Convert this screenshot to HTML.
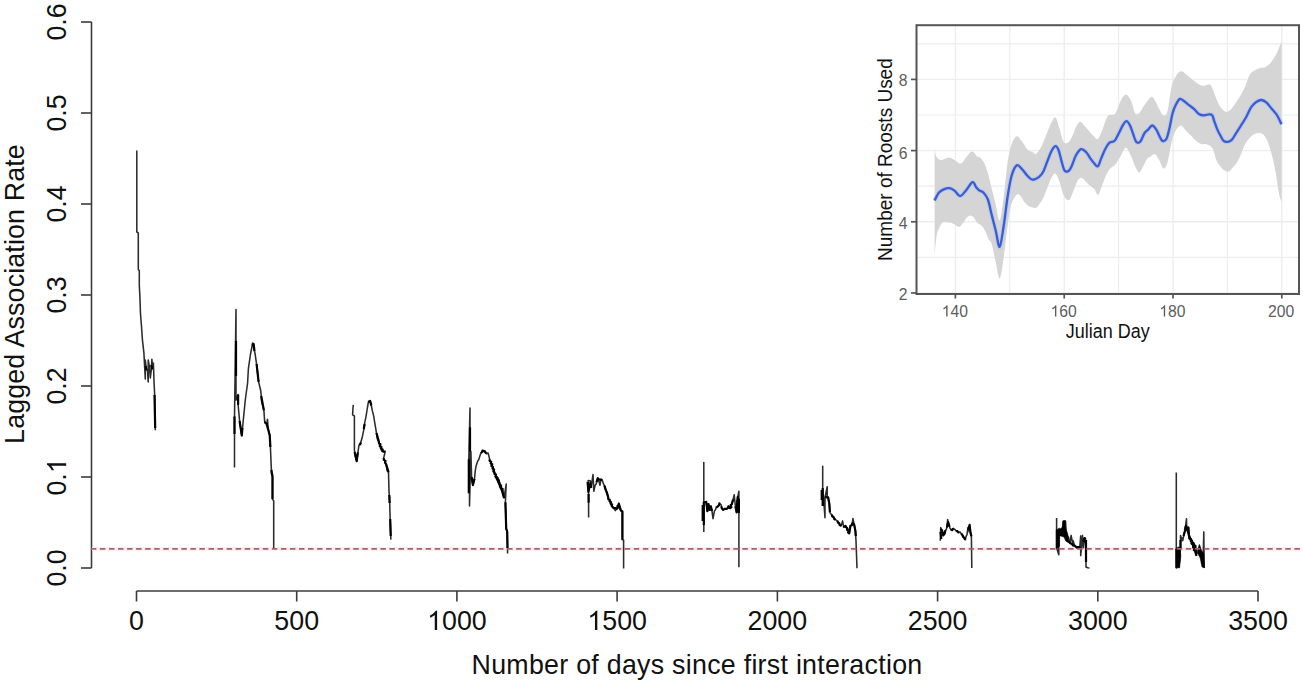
<!DOCTYPE html>
<html><head><meta charset="utf-8"><style>
html,body{margin:0;padding:0;background:#fff;}
svg{display:block;}
text{font-family:"Liberation Sans",sans-serif;}
</style></head><body>
<svg width="1303" height="684" viewBox="0 0 1303 684">
<rect width="1303" height="684" fill="#fff"/>
<g stroke="#3c3c3c" stroke-width="1.6" fill="none">
<line x1="91.5" y1="22.0" x2="91.5" y2="568.0"/>
<line x1="81" y1="568.0" x2="91.5" y2="568.0"/>
<line x1="81" y1="477.0" x2="91.5" y2="477.0"/>
<line x1="81" y1="386.0" x2="91.5" y2="386.0"/>
<line x1="81" y1="295.0" x2="91.5" y2="295.0"/>
<line x1="81" y1="204.0" x2="91.5" y2="204.0"/>
<line x1="81" y1="113.0" x2="91.5" y2="113.0"/>
<line x1="81" y1="22.0" x2="91.5" y2="22.0"/>
<line x1="136.5" y1="591" x2="1258.0" y2="591"/>
<line x1="136.5" y1="591" x2="136.5" y2="601.5"/>
<line x1="296.7" y1="591" x2="296.7" y2="601.5"/>
<line x1="456.9" y1="591" x2="456.9" y2="601.5"/>
<line x1="617.1" y1="591" x2="617.1" y2="601.5"/>
<line x1="777.4" y1="591" x2="777.4" y2="601.5"/>
<line x1="937.6" y1="591" x2="937.6" y2="601.5"/>
<line x1="1097.8" y1="591" x2="1097.8" y2="601.5"/>
<line x1="1258.0" y1="591" x2="1258.0" y2="601.5"/>
</g>
<g font-size="26.8" fill="#111" text-anchor="middle">
<g transform="translate(66.20,568.00) rotate(-90) scale(1,1.04)" fill="#111"><text x="-18.63" y="0" text-anchor="start" font-size="26.8" >0.0</text></g>
<g transform="translate(66.20,477.00) rotate(-90) scale(1,1.04)" fill="#111"><text x="-18.63" y="0" text-anchor="start" font-size="26.8" >0.&#8199;</text><path transform="translate(3.72,0) scale(0.01309,-0.01258)" d="M763,0 L583,0 L583,1147 Q518,1085 412.5,1023 Q307,961 223,930 L223,1104 Q374,1175 487,1276 Q600,1377 647,1472 L763,1472 Z"/></g>
<g transform="translate(66.20,386.00) rotate(-90) scale(1,1.04)" fill="#111"><text x="-18.63" y="0" text-anchor="start" font-size="26.8" >0.2</text></g>
<g transform="translate(66.20,295.00) rotate(-90) scale(1,1.04)" fill="#111"><text x="-18.63" y="0" text-anchor="start" font-size="26.8" >0.3</text></g>
<g transform="translate(66.20,204.00) rotate(-90) scale(1,1.04)" fill="#111"><text x="-18.63" y="0" text-anchor="start" font-size="26.8" >0.4</text></g>
<g transform="translate(66.20,113.00) rotate(-90) scale(1,1.04)" fill="#111"><text x="-18.63" y="0" text-anchor="start" font-size="26.8" >0.5</text></g>
<g transform="translate(66.20,22.00) rotate(-90) scale(1,1.04)" fill="#111"><text x="-18.63" y="0" text-anchor="start" font-size="26.8" >0.6</text></g>
<g transform="translate(136.50,630.00) scale(1,1.04)" fill="#111"><text x="-7.45" y="0" text-anchor="start" font-size="26.8" >0</text></g>
<g transform="translate(296.71,630.00) scale(1,1.04)" fill="#111"><text x="-22.36" y="0" text-anchor="start" font-size="26.8" >500</text></g>
<g transform="translate(456.93,630.00) scale(1,1.04)" fill="#111"><text x="-29.81" y="0" text-anchor="start" font-size="26.8" >&#8199;000</text><path transform="translate(-29.81,0) scale(0.01309,-0.01258)" d="M763,0 L583,0 L583,1147 Q518,1085 412.5,1023 Q307,961 223,930 L223,1104 Q374,1175 487,1276 Q600,1377 647,1472 L763,1472 Z"/></g>
<g transform="translate(617.14,630.00) scale(1,1.04)" fill="#111"><text x="-29.81" y="0" text-anchor="start" font-size="26.8" >&#8199;500</text><path transform="translate(-29.81,0) scale(0.01309,-0.01258)" d="M763,0 L583,0 L583,1147 Q518,1085 412.5,1023 Q307,961 223,930 L223,1104 Q374,1175 487,1276 Q600,1377 647,1472 L763,1472 Z"/></g>
<g transform="translate(777.36,630.00) scale(1,1.04)" fill="#111"><text x="-29.81" y="0" text-anchor="start" font-size="26.8" >2000</text></g>
<g transform="translate(937.57,630.00) scale(1,1.04)" fill="#111"><text x="-29.81" y="0" text-anchor="start" font-size="26.8" >2500</text></g>
<g transform="translate(1097.79,630.00) scale(1,1.04)" fill="#111"><text x="-29.81" y="0" text-anchor="start" font-size="26.8" >3000</text></g>
<g transform="translate(1258.00,630.00) scale(1,1.04)" fill="#111"><text x="-29.81" y="0" text-anchor="start" font-size="26.8" >3500</text></g>
<text transform="translate(697,673.8) scale(1,1.04)" letter-spacing="0.27">Number of days since first interaction</text>
<text transform="translate(23.5,294) rotate(-90) scale(1,1.04)" letter-spacing="0.15">Lagged Association Rate</text>
</g>
<line x1="92" y1="548.9" x2="1300" y2="548.9" stroke="#fcf0f2" stroke-width="4"/>
<g stroke="#000" fill="none" stroke-linejoin="round" stroke-linecap="butt">
<polyline points="136.8,150.5 136.8,232.0 138.3,233.0 138.3,269.6 139.3,270.5 139.3,285.0 139.9,296.6 140.5,314.0 141.4,325.0 142.4,339.6 143.9,352.8 144.6,365.9 145.3,379.0 145.3,360.0 146.2,368.0 146.5,369.6 147.5,371.0 148.2,382.0 148.2,360.0 149.3,366.0 150.3,378.0 151.2,371.0 151.9,359.3 152.6,369.0 153.4,363.0 154.0,381.4 154.7,395.3 155.3,430.3" stroke-width="1.55" stroke="#2c2c2c"/>
<polyline points="145.6,366.0 146.5,370.0" stroke-width="2.2"/>
<polyline points="151.2,365.0 152.2,369.0" stroke-width="2.2"/>
<polyline points="154.5,395.0 155.2,428.0" stroke-width="2.2"/>
<polyline points="234.5,467.6 234.5,416.5 236.0,309.5 236.0,400.0 236.8,398.8 236.6,397.1 237.8,396.0 238.1,394.6 238.1,404.8 239.6,421.0 241.8,435.5 243.2,421.0 245.4,399.0 247.6,383.0 248.4,368.6 250.5,354.0 252.7,343.0 254.9,352.6 256.4,362.8 257.1,368.6 258.6,381.8 260.8,391.0 261.7,401.7 263.9,410.4 264.6,420.7 264.9,422.3 266.4,423.4 266.8,425.0 267.5,419.2 268.2,429.4 269.7,435.3 270.4,446.9 271.6,474.7 272.5,474.4 272.5,499.2 273.7,500.7 273.7,548.8" stroke-width="1.55" stroke="#2c2c2c"/>
<polyline points="236.0,341.0 236.0,376.0" stroke-width="2.2"/>
<polyline points="234.5,416.5 234.5,434.0" stroke-width="2.2"/>
<polyline points="238.1,394.6 238.1,404.8" stroke-width="2.2"/>
<polyline points="239.6,421.0 241.8,435.5 242.4,428.0" stroke-width="2.2"/>
<polyline points="252.0,345.0 253.6,344.0 254.5,351.0" stroke-width="2.2"/>
<polyline points="256.6,364.0 258.6,381.8" stroke-width="2.2"/>
<polyline points="261.2,396.0 263.9,410.4" stroke-width="2.2"/>
<polyline points="265.0,421.5 265.3,422.8 266.7,423.6 266.8,425.0 268.2,429.4 269.7,435.3 270.4,446.9" stroke-width="2.2"/>
<polyline points="271.4,470.0 272.5,477.0 272.5,499.0" stroke-width="2.2"/>
<polyline points="353.2,404.9 352.6,414.9 354.4,416.0 354.4,450.0 355.5,457.0 356.7,461.1 357.9,452.3 359.0,445.3 360.2,444.1 362.0,438.3 363.7,430.1 364.9,421.9 366.1,416.1 367.2,409.0 368.4,402.0 370.1,400.8 371.3,405.5 372.5,411.4 373.7,416.1 374.8,423.1 376.0,430.1 377.2,438.3 377.8,440.2 378.9,441.8 380.1,446.5 381.3,450.0 382.4,451.1 383.8,451.6 385.3,451.2 383.6,458.2 384.0,459.8 385.1,461.0 385.1,462.8 386.1,464.1 386.9,468.9 387.2,470.8 388.5,472.1 389.0,491.4 389.6,499.4 390.1,517.1 390.9,539.6" stroke-width="1.55" stroke="#2c2c2c"/>
<polyline points="354.6,452.0 356.7,461.1 357.9,452.3" stroke-width="2.2"/>
<polyline points="359.3,445.0 360.4,443.9 361.0,442.5" stroke-width="2.2"/>
<polyline points="368.4,402.0 370.1,400.8 371.3,405.5" stroke-width="2.2"/>
<polyline points="376.5,433.0 378.9,441.8 379.0,443.3 380.5,444.2 379.7,446.1 381.5,446.9 380.9,448.6 382.7,449.5 382.4,451.1 384.8,452.0" stroke-width="2.2"/>
<polyline points="383.6,458.2 383.9,459.8 385.5,460.9 385.1,462.8 386.1,464.1 388.5,472.1" stroke-width="2.2"/>
<polyline points="389.3,495.0 389.6,503.0" stroke-width="2.2"/>
<polyline points="390.2,519.0 390.7,536.0" stroke-width="2.2"/>
<polyline points="363.8,429.0 364.6,424.0" stroke-width="2.2"/>
<polyline points="468.8,493.2 468.8,459.4 470.0,408.0 470.0,451.4 469.5,470.0 469.5,506.0 470.9,451.4 471.6,477.1 472.9,485.1 474.5,478.7 475.3,470.7 476.1,465.9 477.7,461.0 478.8,459.5 479.3,457.8 480.9,453.0 481.9,452.0 482.5,450.6 484.9,451.4 485.4,452.8 486.5,453.8 488.1,453.0 489.7,459.4 491.3,464.3 491.6,466.2 492.9,467.5 494.5,472.3 494.8,473.6 496.1,474.5 495.8,476.1 496.9,477.1 497.2,478.9 498.7,480.1 498.9,481.9 499.2,483.4 500.2,484.7 500.3,486.4 501.1,487.7 501.3,489.4 502.9,490.5 503.2,492.1 504.0,498.0 506.2,484.1 505.4,502.3 506.2,528.6 507.2,531.5 507.6,553.4" stroke-width="1.55" stroke="#2c2c2c"/>
<polyline points="470.0,427.3 470.0,451.4" stroke-width="2.2"/>
<polyline points="468.8,459.4 468.8,493.2" stroke-width="2.2"/>
<polyline points="471.6,477.1 472.9,485.1 474.5,478.7" stroke-width="2.2"/>
<polyline points="480.9,453.0 482.1,452.0 482.5,450.6 484.9,451.4 486.2,453.5" stroke-width="2.2"/>
<polyline points="489.7,459.4 489.6,460.9 491.2,461.8 490.7,463.4 492.3,464.3 491.5,466.1 493.0,467.0 492.5,468.6 494.1,469.5 493.3,471.3 494.5,472.3 494.4,473.8 496.0,474.7 495.4,476.5 497.0,477.3 496.8,478.9 498.4,479.7 498.0,481.4 499.4,482.4 499.2,484.0 500.6,484.9 499.9,486.7 501.1,487.7 504.0,498.0" stroke-width="2.2"/>
<polyline points="505.4,502.3 506.2,528.6 507.2,531.5 507.5,548.0" stroke-width="2.2"/>
<polyline points="496.0,476.0 496.0,477.5 497.9,478.2 497.3,479.9 498.9,480.7 498.4,482.5 499.5,483.5 499.6,485.1 501.2,486.1 500.6,488.0 502.6,488.8 502.5,490.5" stroke-width="2.2"/>
<polyline points="588.6,517.6 588.6,494.0 588.1,480.4 590.3,480.8 591.2,486.9 593.0,474.6 593.8,491.3 595.2,485.2 596.3,483.8 596.5,482.1 597.8,478.2 598.0,480.1 599.1,481.7 600.0,485.2 600.9,479.5 602.2,479.9 603.5,483.9 604.4,485.6 605.2,489.1 605.7,490.3 606.6,491.3 607.4,493.1 608.3,497.5 608.5,499.0 609.6,500.1 610.5,503.6 611.4,505.8 612.7,507.1 614.0,508.9 615.3,510.6 616.6,508.9 617.8,507.8 618.0,506.2 618.8,503.6 619.7,508.9 621.0,510.6 622.4,511.5 622.4,539.8 623.6,540.0 623.6,568.4" stroke-width="1.55" stroke="#2c2c2c"/>
<polyline points="588.6,494.0 588.6,502.7" stroke-width="2.2"/>
<polyline points="587.6,482.0 588.4,492.0 590.3,483.0 591.2,488.0" stroke-width="2.2"/>
<polyline points="596.5,482.1 597.8,478.2 599.0,479.6 600.9,479.5 602.2,480.0" stroke-width="2.2"/>
<polyline points="604.4,485.6 608.3,497.5 608.2,499.0 609.8,499.7 609.5,501.3 611.1,502.0 610.8,503.6 612.1,504.5 611.8,506.1 612.7,507.1 613.9,508.0 615.4,508.0 616.6,508.9 617.8,507.8 617.4,506.1 618.6,505.1 618.8,503.6 621.0,510.6 622.4,511.5 622.4,539.8" stroke-width="2.2"/>
<polyline points="703.8,532.1 703.8,462.6 703.8,501.8 706.2,501.8 707.4,511.1 708.5,504.1 709.7,509.9 710.9,506.4 712.0,511.1 713.0,518.7 714.4,511.1 715.6,509.5 716.1,507.6 717.9,506.4 719.3,504.9 719.6,502.9 720.0,504.2 721.2,505.0 721.4,506.4 721.8,508.4 723.1,509.9 724.9,508.8 726.6,508.8 728.0,508.0 728.4,506.4 730.1,508.2 731.2,507.1 730.7,505.2 731.9,504.1 733.1,499.4 734.2,494.7 735.4,506.4 736.6,512.3 737.7,497.1 738.9,491.2 738.9,567.3" stroke-width="1.55" stroke="#2c2c2c"/>
<polyline points="703.8,501.8 703.8,525.1" stroke-width="2.2"/>
<polyline points="702.7,505.0 702.7,521.0" stroke-width="2.2"/>
<polyline points="705.0,503.0 706.2,501.8 707.4,511.1 708.5,504.1 709.7,509.9 710.9,506.4 712.0,511.1" stroke-width="2.2"/>
<polyline points="716.1,507.6 717.9,506.4 719.1,504.8 719.6,502.9" stroke-width="2.2"/>
<polyline points="721.4,506.4 721.8,508.4 723.1,509.9 724.9,508.8 726.6,508.8 727.9,507.9 728.4,506.4 730.1,508.2 731.4,507.1 730.6,505.1 731.9,504.1 733.1,499.4" stroke-width="2.2"/>
<polyline points="735.4,506.4 736.6,512.3 737.7,497.1 738.0,498.7 738.9,500.0 738.9,513.0" stroke-width="2.2"/>
<polyline points="737.5,500.0 737.5,510.0" stroke-width="2.2"/>
<polyline points="822.7,506.0 822.7,466.2 822.7,488.0 825.0,517.8 825.0,497.3 827.2,486.7 827.2,497.3 828.1,497.3 829.3,503.5 829.9,512.2 830.6,513.6 831.8,514.7 832.5,516.1 833.7,517.2 834.3,518.6 835.5,519.7 837.4,520.9 838.0,522.4 839.3,523.4 839.8,524.9 841.1,525.9 842.6,520.9 843.6,527.2 845.5,525.9 846.1,527.4 847.3,528.4 847.6,529.7 848.6,530.8 848.4,532.3 849.2,533.4 850.4,525.9 851.7,524.9 852.3,523.4 852.9,518.5 854.2,524.7 855.4,530.9 856.0,540.8 857.0,568.2" stroke-width="1.55" stroke="#2c2c2c"/>
<polyline points="822.7,488.0 822.7,506.0" stroke-width="2.2"/>
<polyline points="821.7,490.0 821.7,500.0" stroke-width="2.2"/>
<polyline points="825.6,496.1 826.5,497.4 828.1,497.3 829.3,503.5 829.9,512.2" stroke-width="2.2"/>
<polyline points="831.8,514.7 832.2,516.3 833.7,517.2 834.1,518.8 835.5,519.7" stroke-width="2.2"/>
<polyline points="837.4,520.9 837.9,522.5 839.3,523.4 839.7,525.0 841.1,525.9" stroke-width="2.2"/>
<polyline points="843.6,527.2 845.5,525.9 846.2,527.3 847.3,528.4 847.1,529.9 848.9,530.6 848.0,532.4 849.2,533.4 850.4,525.9 851.9,525.1 852.3,523.4 854.2,524.7 855.4,530.9 855.8,536.0" stroke-width="2.2"/>
<polyline points="940.3,540.7 940.7,527.5 941.0,529.0 942.0,530.2 943.3,535.4 944.6,533.7 945.5,530.2 946.5,529.0 946.8,527.5 947.7,519.6 948.6,524.9 949.5,526.7 949.9,528.1 950.8,529.3 952.1,530.2 953.4,528.4 954.7,529.3 956.1,531.1 957.4,531.1 958.7,532.8 960.0,531.9 961.3,533.7 962.6,535.4 963.9,537.2 964.2,538.7 965.3,539.8 966.1,536.3 967.0,534.6 967.9,527.5 967.9,531.9 969.6,524.9 970.5,532.8 971.4,536.3 971.8,567.9" stroke-width="1.55" stroke="#2c2c2c"/>
<polyline points="940.7,529.0 942.0,530.2 943.3,535.4 944.6,533.7 945.5,530.2" stroke-width="2.2"/>
<polyline points="940.5,532.0 941.3,539.0" stroke-width="2.2"/>
<polyline points="946.8,527.5 948.2,522.0 949.5,526.7" stroke-width="2.2"/>
<polyline points="950.8,529.3 952.1,530.2 953.4,528.4" stroke-width="2.2"/>
<polyline points="956.1,531.1 957.4,531.1 958.7,532.8" stroke-width="2.2"/>
<polyline points="961.3,533.7 962.6,535.4 963.2,537.0 964.7,538.2 965.3,539.8" stroke-width="2.2"/>
<polyline points="968.3,530.0 969.6,524.9 970.5,532.8 971.4,536.3" stroke-width="2.2"/>
<polyline points="1056.6,517.9 1056.6,547.7 1058.8,554.7 1058.8,531.0 1060.3,530.3 1061.2,528.8 1062.7,528.0 1063.5,521.0 1065.5,521.0 1066.0,530.0 1067.5,535.0 1067.6,536.4 1068.6,537.4 1068.6,538.8 1069.6,539.9 1069.5,541.3 1070.2,542.5 1071.1,535.4 1072.8,544.2 1073.2,540.7 1074.6,546.0 1076.3,547.7 1078.1,548.6 1079.8,546.8 1080.7,535.9 1080.7,555.6 1082.5,535.4 1083.3,547.7 1084.6,538.1 1085.5,539.0 1086.0,560.9 1086.0,567.0 1087.7,567.8 1089.5,567.9" stroke-width="1.55" stroke="#2c2c2c"/>
<polyline points="1086.0,540.0 1086.0,562.0" stroke-width="2.2"/>
<polyline points="1083.5,542.0 1084.6,538.1 1085.5,539.0" stroke-width="2.2"/>
<polyline points="1067.0,540.5 1069.0,542.0 1070.3,543.2 1072.0,544.0 1073.1,545.5 1075.0,545.8 1076.2,547.1 1078.0,547.2 1080.3,547.0" stroke-width="2.2"/>
<polygon points="1056.2,530.0 1059.6,528.0 1059.6,546.0 1058.0,548.0 1056.2,548.0" fill="#000" stroke="#000" stroke-width="0.6"/>
<polygon points="1058.0,531.0 1062.3,527.5 1062.8,521.0 1065.2,520.8 1065.7,528.0 1066.8,533.0 1068.6,538.5 1067.5,542.0 1065.8,541.0 1064.0,537.0 1061.0,536.0 1059.0,536.0" fill="#000" stroke="#000" stroke-width="0.6"/>
<polyline points="1176.3,472.6 1176.3,547.7 1176.5,567.9 1178.0,555.0 1179.0,567.0 1180.5,548.0 1180.5,535.4 1180.8,536.8 1181.9,537.9 1181.8,539.5 1182.7,540.7 1184.0,534.6 1184.9,531.1 1186.5,518.8 1186.7,529.3 1188.4,527.5 1188.9,535.4 1189.2,536.9 1190.2,538.1 1190.8,539.6 1191.9,540.7 1192.3,542.3 1193.7,543.3 1193.6,545.0 1195.2,546.1 1195.4,547.7 1196.3,553.9 1197.6,552.8 1198.1,551.2 1199.4,545.1 1200.3,552.1 1201.6,559.1 1202.5,562.6 1203.3,551.2 1203.8,531.9 1204.2,567.9" stroke-width="1.55" stroke="#2c2c2c"/>
<polyline points="1183.5,536.0 1184.9,531.1 1186.7,529.3 1188.4,527.5 1188.9,535.4 1189.3,536.9 1190.2,538.1 1190.8,539.6 1191.9,540.7 1192.4,542.3 1193.7,543.3 1193.9,544.9 1195.5,546.0 1195.4,547.7 1196.3,553.9" stroke-width="2.2"/>
<polyline points="1184.5,530.0 1185.4,528.8 1185.4,527.2 1186.2,526.0 1187.8,531.0 1189.6,537.0 1189.3,538.5 1191.1,539.3 1190.7,540.9 1191.5,542.0 1191.5,543.6 1192.9,544.6 1193.2,546.0 1193.1,547.4 1194.9,548.2 1193.8,550.0 1195.0,551.0 1196.5,556.0" stroke-width="2.2"/>
<polyline points="1180.5,540.0 1180.5,548.0" stroke-width="2.2"/>
<polygon points="1175.6,549.0 1178.5,547.0 1180.0,548.0 1180.8,556.0 1179.6,567.8 1175.6,567.8" fill="#000" stroke="#000" stroke-width="0.6"/>
<polygon points="1197.8,550.0 1199.6,545.5 1201.8,551.0 1203.6,553.0 1204.6,567.8 1202.0,567.0 1200.2,558.0 1198.0,554.0" fill="#000" stroke="#000" stroke-width="0.6"/>
</g>
<line x1="90.85" y1="548.9" x2="1300" y2="548.9" stroke="#a8606c" stroke-width="1.75" stroke-dasharray="5.5 3.549"/>
<g stroke="#ededed" fill="none">
<line x1="916.5" x2="1299" y1="257.4" y2="257.4" stroke-width="1.2"/>
<line x1="916.5" x2="1299" y1="186.2" y2="186.2" stroke-width="1.2"/>
<line x1="916.5" x2="1299" y1="115.0" y2="115.0" stroke-width="1.2"/>
<line x1="916.5" x2="1299" y1="43.8" y2="43.8" stroke-width="1.2"/>
<line y1="25.2" y2="294" x1="1009.8" x2="1009.8" stroke-width="1.2"/>
<line y1="25.2" y2="294" x1="1118.6" x2="1118.6" stroke-width="1.2"/>
<line y1="25.2" y2="294" x1="1227.4" x2="1227.4" stroke-width="1.2"/>
<line x1="916.5" x2="1299" y1="293.0" y2="293.0" stroke-width="1.4"/>
<line x1="916.5" x2="1299" y1="221.8" y2="221.8" stroke-width="1.4"/>
<line x1="916.5" x2="1299" y1="150.6" y2="150.6" stroke-width="1.4"/>
<line x1="916.5" x2="1299" y1="79.4" y2="79.4" stroke-width="1.4"/>
<line y1="25.2" y2="294" x1="955.4" x2="955.4" stroke-width="1.4"/>
<line y1="25.2" y2="294" x1="1064.2" x2="1064.2" stroke-width="1.4"/>
<line y1="25.2" y2="294" x1="1173.0" x2="1173.0" stroke-width="1.4"/>
<line y1="25.2" y2="294" x1="1281.8" x2="1281.8" stroke-width="1.4"/>
</g>
<path d="M934.60,147.90 C934.90,149.37 935.27,154.68 936.40,156.70 C937.53,158.72 939.37,159.85 941.40,160.00 C943.43,160.15 946.55,157.68 948.60,157.60 C950.65,157.52 951.67,158.52 953.70,159.50 C955.73,160.48 958.75,163.82 960.80,163.50 C962.85,163.18 964.12,159.60 966.00,157.60 C967.88,155.60 970.23,151.67 972.10,151.50 C973.97,151.33 975.88,155.62 977.20,156.60 C978.52,157.58 978.87,156.40 980.00,157.40 C981.13,158.40 982.68,159.97 984.00,162.60 C985.32,165.23 986.60,168.80 987.90,173.20 C989.20,177.60 990.48,183.75 991.80,189.00 C993.12,194.25 994.48,199.45 995.80,204.70 C997.12,209.95 998.38,221.82 999.70,220.50 C1001.02,219.18 1002.38,206.45 1003.70,196.80 C1005.02,187.15 1006.28,171.37 1007.60,162.60 C1008.92,153.83 1010.07,148.58 1011.60,144.20 C1013.13,139.82 1015.05,136.73 1016.80,136.30 C1018.55,135.87 1020.33,139.40 1022.10,141.60 C1023.87,143.80 1025.65,147.75 1027.40,149.50 C1029.15,151.25 1031.17,151.35 1032.60,152.10 C1034.03,152.85 1034.58,154.83 1036.00,154.00 C1037.42,153.17 1039.38,150.30 1041.10,147.10 C1042.82,143.90 1044.58,138.90 1046.30,134.80 C1048.02,130.70 1049.87,125.40 1051.40,122.50 C1052.93,119.60 1054.13,116.37 1055.50,117.40 C1056.87,118.43 1058.23,124.60 1059.60,128.70 C1060.97,132.80 1062.17,139.78 1063.70,142.00 C1065.23,144.22 1067.27,143.20 1068.80,142.00 C1070.33,140.80 1071.70,137.30 1072.90,134.80 C1074.10,132.30 1074.78,129.17 1076.00,127.00 C1077.22,124.83 1078.70,121.88 1080.20,121.80 C1081.70,121.72 1083.37,124.80 1085.00,126.50 C1086.63,128.20 1088.50,130.33 1090.00,132.00 C1091.50,133.67 1092.73,135.30 1094.00,136.50 C1095.27,137.70 1096.43,139.78 1097.60,139.20 C1098.77,138.62 1099.85,135.53 1101.00,133.00 C1102.15,130.47 1103.35,126.88 1104.50,124.00 C1105.65,121.12 1106.65,117.20 1107.90,115.70 C1109.15,114.20 1110.72,115.45 1112.00,115.00 C1113.28,114.55 1114.15,115.38 1115.60,113.00 C1117.05,110.62 1119.00,103.77 1120.70,100.70 C1122.40,97.63 1124.08,94.60 1125.80,94.60 C1127.52,94.60 1129.45,97.63 1131.00,100.70 C1132.55,103.77 1133.73,110.95 1135.10,113.00 C1136.47,115.05 1137.85,114.02 1139.20,113.00 C1140.55,111.98 1141.22,109.58 1143.20,106.90 C1145.18,104.22 1149.10,97.88 1151.10,96.90 C1153.10,95.92 1153.83,98.95 1155.20,101.00 C1156.57,103.05 1157.93,106.82 1159.30,109.20 C1160.67,111.58 1162.03,114.97 1163.40,115.30 C1164.77,115.63 1166.13,115.98 1167.50,111.20 C1168.87,106.42 1170.23,92.40 1171.60,86.60 C1172.97,80.80 1174.17,78.95 1175.70,76.40 C1177.23,73.85 1179.08,71.65 1180.80,71.30 C1182.52,70.95 1184.28,73.12 1186.00,74.30 C1187.72,75.48 1189.40,77.03 1191.10,78.40 C1192.80,79.77 1194.50,81.30 1196.20,82.50 C1197.90,83.70 1199.82,85.08 1201.30,85.60 C1202.78,86.12 1203.62,85.77 1205.10,85.60 C1206.58,85.43 1208.83,83.75 1210.20,84.60 C1211.57,85.45 1212.27,88.32 1213.30,90.70 C1214.33,93.08 1215.20,96.17 1216.40,98.90 C1217.60,101.63 1219.13,105.05 1220.50,107.10 C1221.87,109.15 1223.23,110.52 1224.60,111.20 C1225.97,111.88 1227.33,111.88 1228.70,111.20 C1230.07,110.52 1231.43,108.80 1232.80,107.10 C1234.17,105.40 1235.53,103.05 1236.90,101.00 C1238.27,98.95 1239.63,97.20 1241.00,94.80 C1242.37,92.40 1243.57,90.07 1245.10,86.60 C1246.63,83.13 1248.48,76.78 1250.20,74.00 C1251.92,71.22 1253.68,70.92 1255.40,69.90 C1257.12,68.88 1258.80,68.40 1260.50,67.90 C1262.20,67.40 1263.90,67.75 1265.60,66.90 C1267.30,66.05 1269.17,64.52 1270.70,62.80 C1272.23,61.08 1273.60,58.65 1274.80,56.60 C1276.00,54.55 1276.77,53.05 1277.90,50.50 C1279.03,47.95 1280.98,42.83 1281.60,41.30 L1281.60,201.70 C1281.32,201.02 1280.52,200.00 1279.90,197.60 C1279.28,195.20 1278.58,191.40 1277.90,187.30 C1277.22,183.20 1276.65,177.77 1275.80,173.00 C1274.95,168.23 1273.98,163.48 1272.80,158.70 C1271.62,153.92 1270.07,148.07 1268.70,144.30 C1267.33,140.53 1265.97,137.97 1264.60,136.10 C1263.23,134.23 1262.03,133.50 1260.50,133.10 C1258.97,132.70 1257.12,133.02 1255.40,133.70 C1253.68,134.38 1251.92,135.43 1250.20,137.20 C1248.48,138.97 1246.63,141.47 1245.10,144.30 C1243.57,147.13 1242.37,151.18 1241.00,154.20 C1239.63,157.22 1238.27,160.18 1236.90,162.40 C1235.53,164.62 1234.17,165.97 1232.80,167.50 C1231.43,169.03 1230.07,171.08 1228.70,171.60 C1227.33,172.12 1225.97,171.45 1224.60,170.60 C1223.23,169.75 1221.87,168.22 1220.50,166.50 C1219.13,164.78 1217.60,163.03 1216.40,160.30 C1215.20,157.57 1214.33,152.48 1213.30,150.10 C1212.27,147.72 1211.57,147.02 1210.20,146.00 C1208.83,144.98 1206.58,144.33 1205.10,144.00 C1203.62,143.67 1202.78,144.52 1201.30,144.00 C1199.82,143.48 1197.90,142.27 1196.20,140.90 C1194.50,139.53 1192.80,137.50 1191.10,135.80 C1189.40,134.10 1187.72,132.42 1186.00,130.70 C1184.28,128.98 1182.52,125.50 1180.80,125.50 C1179.08,125.50 1177.23,127.97 1175.70,130.70 C1174.17,133.43 1172.97,136.62 1171.60,141.90 C1170.23,147.18 1168.87,157.97 1167.50,162.40 C1166.13,166.83 1164.77,168.85 1163.40,168.50 C1162.03,168.15 1160.67,162.68 1159.30,160.30 C1157.93,157.92 1156.57,154.87 1155.20,154.20 C1153.83,153.53 1152.47,155.50 1151.10,156.30 C1149.73,157.10 1148.32,157.33 1147.00,159.00 C1145.68,160.67 1144.50,164.07 1143.20,166.30 C1141.90,168.53 1140.55,172.40 1139.20,172.40 C1137.85,172.40 1136.47,169.03 1135.10,166.30 C1133.73,163.57 1132.55,159.08 1131.00,156.00 C1129.45,152.92 1127.52,147.80 1125.80,147.80 C1124.08,147.80 1122.40,153.27 1120.70,156.00 C1119.00,158.73 1117.30,162.15 1115.60,164.20 C1113.90,166.25 1112.03,166.60 1110.50,168.30 C1108.97,170.00 1107.77,171.67 1106.40,174.40 C1105.03,177.13 1103.67,181.28 1102.30,184.70 C1100.93,188.12 1099.57,194.22 1098.20,194.90 C1096.83,195.58 1095.42,190.28 1094.10,188.80 C1092.78,187.32 1091.62,187.15 1090.30,186.00 C1088.98,184.85 1087.73,183.27 1086.20,181.90 C1084.67,180.53 1082.63,177.80 1081.10,177.80 C1079.57,177.80 1078.37,179.50 1077.00,181.90 C1075.63,184.30 1074.27,189.13 1072.90,192.20 C1071.53,195.27 1070.33,199.80 1068.80,200.30 C1067.27,200.80 1065.23,198.27 1063.70,195.20 C1062.17,192.13 1060.97,185.48 1059.60,181.90 C1058.23,178.32 1056.87,174.38 1055.50,173.70 C1054.13,173.02 1052.77,175.40 1051.40,177.80 C1050.03,180.20 1048.67,184.68 1047.30,188.10 C1045.93,191.52 1044.57,195.58 1043.20,198.30 C1041.83,201.02 1040.30,202.78 1039.10,204.40 C1037.90,206.02 1037.02,207.47 1036.00,208.00 C1034.98,208.53 1034.23,207.93 1033.00,207.60 C1031.77,207.27 1030.07,206.97 1028.60,206.00 C1027.13,205.03 1025.55,203.47 1024.20,201.80 C1022.85,200.13 1021.72,197.22 1020.50,196.00 C1019.28,194.78 1018.47,193.00 1016.90,194.50 C1015.33,196.00 1012.65,199.67 1011.10,205.00 C1009.55,210.33 1008.83,217.77 1007.60,226.50 C1006.37,235.23 1005.02,248.75 1003.70,257.40 C1002.38,266.05 1001.02,277.53 999.70,278.40 C998.38,279.27 997.12,268.30 995.80,262.60 C994.48,256.90 992.97,248.05 991.80,244.20 C990.63,240.35 989.75,241.32 988.80,239.50 C987.85,237.68 986.98,235.22 986.10,233.30 C985.22,231.38 984.52,229.45 983.50,228.00 C982.48,226.55 981.17,225.62 980.00,224.60 C978.83,223.58 977.52,223.08 976.50,221.90 C975.48,220.72 974.92,218.58 973.90,217.50 C972.88,216.42 971.58,215.40 970.40,215.40 C969.22,215.40 967.98,216.27 966.80,217.50 C965.62,218.73 964.38,221.33 963.30,222.80 C962.22,224.27 961.18,225.63 960.30,226.30 C959.42,226.97 958.95,227.08 958.00,226.80 C957.05,226.52 955.77,225.27 954.60,224.60 C953.43,223.93 952.18,223.17 951.00,222.80 C949.82,222.43 948.67,222.55 947.50,222.40 C946.33,222.25 945.02,221.68 944.00,221.90 C942.98,222.12 942.27,222.52 941.40,223.70 C940.53,224.88 939.53,227.40 938.80,229.00 C938.07,230.60 937.55,230.63 937.00,233.30 C936.45,235.97 935.90,241.38 935.50,245.00 C935.10,248.62 934.75,253.33 934.60,255.00 Z" fill="#d5d5d5" stroke="none"/>
<path d="M934.60,200.50 C935.33,199.18 937.38,194.50 939.00,192.60 C940.62,190.70 942.53,189.83 944.30,189.10 C946.07,188.37 947.85,187.90 949.60,188.20 C951.35,188.50 953.05,189.58 954.80,190.90 C956.55,192.22 958.23,196.18 960.10,196.10 C961.97,196.02 963.93,192.72 966.00,190.40 C968.07,188.08 970.80,182.72 972.50,182.20 C974.20,181.68 975.07,185.93 976.20,187.30 C977.33,188.67 978.10,189.53 979.30,190.40 C980.50,191.27 981.97,190.98 983.40,192.50 C984.83,194.02 986.50,195.70 987.90,199.50 C989.30,203.30 990.48,210.05 991.80,215.30 C993.12,220.55 994.48,225.75 995.80,231.00 C997.12,236.25 998.38,247.67 999.70,246.80 C1001.02,245.93 1002.38,234.13 1003.70,225.80 C1005.02,217.47 1006.28,205.13 1007.60,196.80 C1008.92,188.47 1010.07,181.05 1011.60,175.80 C1013.13,170.55 1015.05,166.40 1016.80,165.30 C1018.55,164.20 1020.33,167.45 1022.10,169.20 C1023.87,170.95 1025.65,174.05 1027.40,175.80 C1029.15,177.55 1030.65,179.53 1032.60,179.70 C1034.55,179.87 1037.33,178.13 1039.10,176.80 C1040.87,175.47 1041.83,174.27 1043.20,171.70 C1044.57,169.13 1045.93,164.82 1047.30,161.40 C1048.67,157.98 1050.03,153.75 1051.40,151.20 C1052.77,148.65 1054.30,146.27 1055.50,146.10 C1056.70,145.93 1057.58,147.65 1058.60,150.20 C1059.62,152.75 1060.58,157.98 1061.60,161.40 C1062.62,164.82 1063.50,169.15 1064.70,170.70 C1065.90,172.25 1067.60,171.57 1068.80,170.70 C1070.00,169.83 1070.70,168.07 1071.90,165.50 C1073.10,162.93 1074.47,158.03 1076.00,155.30 C1077.53,152.57 1079.40,149.62 1081.10,149.10 C1082.80,148.58 1084.67,150.65 1086.20,152.20 C1087.73,153.75 1088.98,156.57 1090.30,158.40 C1091.62,160.23 1092.85,161.88 1094.10,163.20 C1095.35,164.52 1096.60,167.15 1097.80,166.30 C1099.00,165.45 1100.03,161.02 1101.30,158.10 C1102.57,155.18 1104.03,151.37 1105.40,148.80 C1106.77,146.23 1107.97,144.05 1109.50,142.70 C1111.03,141.35 1113.07,142.23 1114.60,140.70 C1116.13,139.17 1117.33,136.07 1118.70,133.50 C1120.07,130.93 1121.50,127.35 1122.80,125.30 C1124.10,123.25 1125.32,121.20 1126.50,121.20 C1127.68,121.20 1128.82,123.25 1129.90,125.30 C1130.98,127.35 1131.97,130.77 1133.00,133.50 C1134.03,136.23 1134.90,140.33 1136.10,141.70 C1137.30,143.07 1138.83,143.07 1140.20,141.70 C1141.57,140.33 1142.98,135.52 1144.30,133.50 C1145.62,131.48 1146.78,130.93 1148.10,129.60 C1149.42,128.27 1150.83,125.50 1152.20,125.50 C1153.57,125.50 1155.12,127.88 1156.30,129.60 C1157.48,131.32 1158.28,133.92 1159.30,135.80 C1160.32,137.68 1161.20,140.40 1162.40,140.90 C1163.60,141.40 1165.30,141.02 1166.50,138.80 C1167.70,136.58 1168.58,131.87 1169.60,127.60 C1170.62,123.33 1171.58,116.95 1172.60,113.20 C1173.62,109.45 1174.50,107.48 1175.70,105.10 C1176.90,102.72 1178.43,99.58 1179.80,98.90 C1181.17,98.22 1182.37,99.97 1183.90,101.00 C1185.43,102.03 1187.28,103.73 1189.00,105.10 C1190.72,106.47 1192.48,107.67 1194.20,109.20 C1195.92,110.73 1197.65,113.28 1199.30,114.30 C1200.95,115.32 1202.45,115.30 1204.10,115.30 C1205.75,115.30 1207.83,114.30 1209.20,114.30 C1210.57,114.30 1211.45,114.12 1212.30,115.30 C1213.15,116.48 1213.45,119.02 1214.30,121.40 C1215.15,123.78 1216.37,127.20 1217.40,129.60 C1218.43,132.00 1219.47,133.92 1220.50,135.80 C1221.53,137.68 1222.42,139.88 1223.60,140.90 C1224.78,141.92 1226.25,142.07 1227.60,141.90 C1228.95,141.73 1230.33,141.27 1231.70,139.90 C1233.07,138.53 1234.25,136.10 1235.80,133.70 C1237.35,131.30 1239.28,128.23 1241.00,125.50 C1242.72,122.77 1244.40,120.37 1246.10,117.30 C1247.80,114.23 1249.50,109.65 1251.20,107.10 C1252.90,104.55 1254.58,103.18 1256.30,102.00 C1258.02,100.82 1259.78,99.88 1261.50,100.00 C1263.22,100.12 1264.90,101.23 1266.60,102.70 C1268.30,104.17 1269.98,106.75 1271.70,108.80 C1273.42,110.85 1275.28,112.43 1276.90,115.00 C1278.52,117.57 1280.65,122.67 1281.40,124.20" fill="none" stroke="#b4c4ee" stroke-width="4.4" stroke-linejoin="round" opacity="0.8"/>
<path d="M934.60,200.50 C935.33,199.18 937.38,194.50 939.00,192.60 C940.62,190.70 942.53,189.83 944.30,189.10 C946.07,188.37 947.85,187.90 949.60,188.20 C951.35,188.50 953.05,189.58 954.80,190.90 C956.55,192.22 958.23,196.18 960.10,196.10 C961.97,196.02 963.93,192.72 966.00,190.40 C968.07,188.08 970.80,182.72 972.50,182.20 C974.20,181.68 975.07,185.93 976.20,187.30 C977.33,188.67 978.10,189.53 979.30,190.40 C980.50,191.27 981.97,190.98 983.40,192.50 C984.83,194.02 986.50,195.70 987.90,199.50 C989.30,203.30 990.48,210.05 991.80,215.30 C993.12,220.55 994.48,225.75 995.80,231.00 C997.12,236.25 998.38,247.67 999.70,246.80 C1001.02,245.93 1002.38,234.13 1003.70,225.80 C1005.02,217.47 1006.28,205.13 1007.60,196.80 C1008.92,188.47 1010.07,181.05 1011.60,175.80 C1013.13,170.55 1015.05,166.40 1016.80,165.30 C1018.55,164.20 1020.33,167.45 1022.10,169.20 C1023.87,170.95 1025.65,174.05 1027.40,175.80 C1029.15,177.55 1030.65,179.53 1032.60,179.70 C1034.55,179.87 1037.33,178.13 1039.10,176.80 C1040.87,175.47 1041.83,174.27 1043.20,171.70 C1044.57,169.13 1045.93,164.82 1047.30,161.40 C1048.67,157.98 1050.03,153.75 1051.40,151.20 C1052.77,148.65 1054.30,146.27 1055.50,146.10 C1056.70,145.93 1057.58,147.65 1058.60,150.20 C1059.62,152.75 1060.58,157.98 1061.60,161.40 C1062.62,164.82 1063.50,169.15 1064.70,170.70 C1065.90,172.25 1067.60,171.57 1068.80,170.70 C1070.00,169.83 1070.70,168.07 1071.90,165.50 C1073.10,162.93 1074.47,158.03 1076.00,155.30 C1077.53,152.57 1079.40,149.62 1081.10,149.10 C1082.80,148.58 1084.67,150.65 1086.20,152.20 C1087.73,153.75 1088.98,156.57 1090.30,158.40 C1091.62,160.23 1092.85,161.88 1094.10,163.20 C1095.35,164.52 1096.60,167.15 1097.80,166.30 C1099.00,165.45 1100.03,161.02 1101.30,158.10 C1102.57,155.18 1104.03,151.37 1105.40,148.80 C1106.77,146.23 1107.97,144.05 1109.50,142.70 C1111.03,141.35 1113.07,142.23 1114.60,140.70 C1116.13,139.17 1117.33,136.07 1118.70,133.50 C1120.07,130.93 1121.50,127.35 1122.80,125.30 C1124.10,123.25 1125.32,121.20 1126.50,121.20 C1127.68,121.20 1128.82,123.25 1129.90,125.30 C1130.98,127.35 1131.97,130.77 1133.00,133.50 C1134.03,136.23 1134.90,140.33 1136.10,141.70 C1137.30,143.07 1138.83,143.07 1140.20,141.70 C1141.57,140.33 1142.98,135.52 1144.30,133.50 C1145.62,131.48 1146.78,130.93 1148.10,129.60 C1149.42,128.27 1150.83,125.50 1152.20,125.50 C1153.57,125.50 1155.12,127.88 1156.30,129.60 C1157.48,131.32 1158.28,133.92 1159.30,135.80 C1160.32,137.68 1161.20,140.40 1162.40,140.90 C1163.60,141.40 1165.30,141.02 1166.50,138.80 C1167.70,136.58 1168.58,131.87 1169.60,127.60 C1170.62,123.33 1171.58,116.95 1172.60,113.20 C1173.62,109.45 1174.50,107.48 1175.70,105.10 C1176.90,102.72 1178.43,99.58 1179.80,98.90 C1181.17,98.22 1182.37,99.97 1183.90,101.00 C1185.43,102.03 1187.28,103.73 1189.00,105.10 C1190.72,106.47 1192.48,107.67 1194.20,109.20 C1195.92,110.73 1197.65,113.28 1199.30,114.30 C1200.95,115.32 1202.45,115.30 1204.10,115.30 C1205.75,115.30 1207.83,114.30 1209.20,114.30 C1210.57,114.30 1211.45,114.12 1212.30,115.30 C1213.15,116.48 1213.45,119.02 1214.30,121.40 C1215.15,123.78 1216.37,127.20 1217.40,129.60 C1218.43,132.00 1219.47,133.92 1220.50,135.80 C1221.53,137.68 1222.42,139.88 1223.60,140.90 C1224.78,141.92 1226.25,142.07 1227.60,141.90 C1228.95,141.73 1230.33,141.27 1231.70,139.90 C1233.07,138.53 1234.25,136.10 1235.80,133.70 C1237.35,131.30 1239.28,128.23 1241.00,125.50 C1242.72,122.77 1244.40,120.37 1246.10,117.30 C1247.80,114.23 1249.50,109.65 1251.20,107.10 C1252.90,104.55 1254.58,103.18 1256.30,102.00 C1258.02,100.82 1259.78,99.88 1261.50,100.00 C1263.22,100.12 1264.90,101.23 1266.60,102.70 C1268.30,104.17 1269.98,106.75 1271.70,108.80 C1273.42,110.85 1275.28,112.43 1276.90,115.00 C1278.52,117.57 1280.65,122.67 1281.40,124.20" fill="none" stroke="#3a5dd0" stroke-width="2.3" stroke-linejoin="round"/>
<rect x="916.5" y="25.2" width="382.5" height="268.8" fill="none" stroke="#555" stroke-width="2"/>
<g stroke="#555" stroke-width="1.7">
<line x1="911.0" x2="916.5" y1="293.0" y2="293.0"/>
<line x1="911.0" x2="916.5" y1="221.8" y2="221.8"/>
<line x1="911.0" x2="916.5" y1="150.6" y2="150.6"/>
<line x1="911.0" x2="916.5" y1="79.4" y2="79.4"/>
<line y1="294" y2="298.5" x1="955.4" x2="955.4"/>
<line y1="294" y2="298.5" x1="1064.2" x2="1064.2"/>
<line y1="294" y2="298.5" x1="1173.0" x2="1173.0"/>
<line y1="294" y2="298.5" x1="1281.8" x2="1281.8"/>
</g>
<g font-size="16" fill="#555">
<g transform="translate(907.50,299.90) scale(1,1.04)" fill="#5c5c5c"><text x="-8.73" y="0" text-anchor="start" font-size="15.7" >2</text></g>
<g transform="translate(907.50,229.10) scale(1,1.04)" fill="#5c5c5c"><text x="-8.73" y="0" text-anchor="start" font-size="15.7" >4</text></g>
<g transform="translate(907.50,159.40) scale(1,1.04)" fill="#5c5c5c"><text x="-8.73" y="0" text-anchor="start" font-size="15.7" >6</text></g>
<g transform="translate(907.50,86.40) scale(1,1.04)" fill="#5c5c5c"><text x="-8.73" y="0" text-anchor="start" font-size="15.7" >8</text></g>
<g transform="translate(954.80,316.50) scale(1,1.04)" fill="#5c5c5c"><text x="-13.10" y="0" text-anchor="start" font-size="15.7" >&#8199;40</text><path transform="translate(-13.10,0) scale(0.00767,-0.00737)" d="M763,0 L583,0 L583,1147 Q518,1085 412.5,1023 Q307,961 223,930 L223,1104 Q374,1175 487,1276 Q600,1377 647,1472 L763,1472 Z"/></g>
<g transform="translate(1063.60,316.50) scale(1,1.04)" fill="#5c5c5c"><text x="-13.10" y="0" text-anchor="start" font-size="15.7" >&#8199;60</text><path transform="translate(-13.10,0) scale(0.00767,-0.00737)" d="M763,0 L583,0 L583,1147 Q518,1085 412.5,1023 Q307,961 223,930 L223,1104 Q374,1175 487,1276 Q600,1377 647,1472 L763,1472 Z"/></g>
<g transform="translate(1172.40,316.50) scale(1,1.04)" fill="#5c5c5c"><text x="-13.10" y="0" text-anchor="start" font-size="15.7" >&#8199;80</text><path transform="translate(-13.10,0) scale(0.00767,-0.00737)" d="M763,0 L583,0 L583,1147 Q518,1085 412.5,1023 Q307,961 223,930 L223,1104 Q374,1175 487,1276 Q600,1377 647,1472 L763,1472 Z"/></g>
<g transform="translate(1281.20,316.50) scale(1,1.04)" fill="#5c5c5c"><text x="-13.10" y="0" text-anchor="start" font-size="15.7" >200</text></g>
</g>
<g font-size="19" fill="#111" text-anchor="middle">
<text transform="translate(1107.8,337.8) scale(1,1.04)" font-size="18.6" textLength="84" lengthAdjust="spacingAndGlyphs">Julian Day</text>
<text transform="translate(892.2,159.6) rotate(-90) scale(1,1.02)" font-size="19">Number of Roosts Used</text>
</g>
</svg></body></html>
